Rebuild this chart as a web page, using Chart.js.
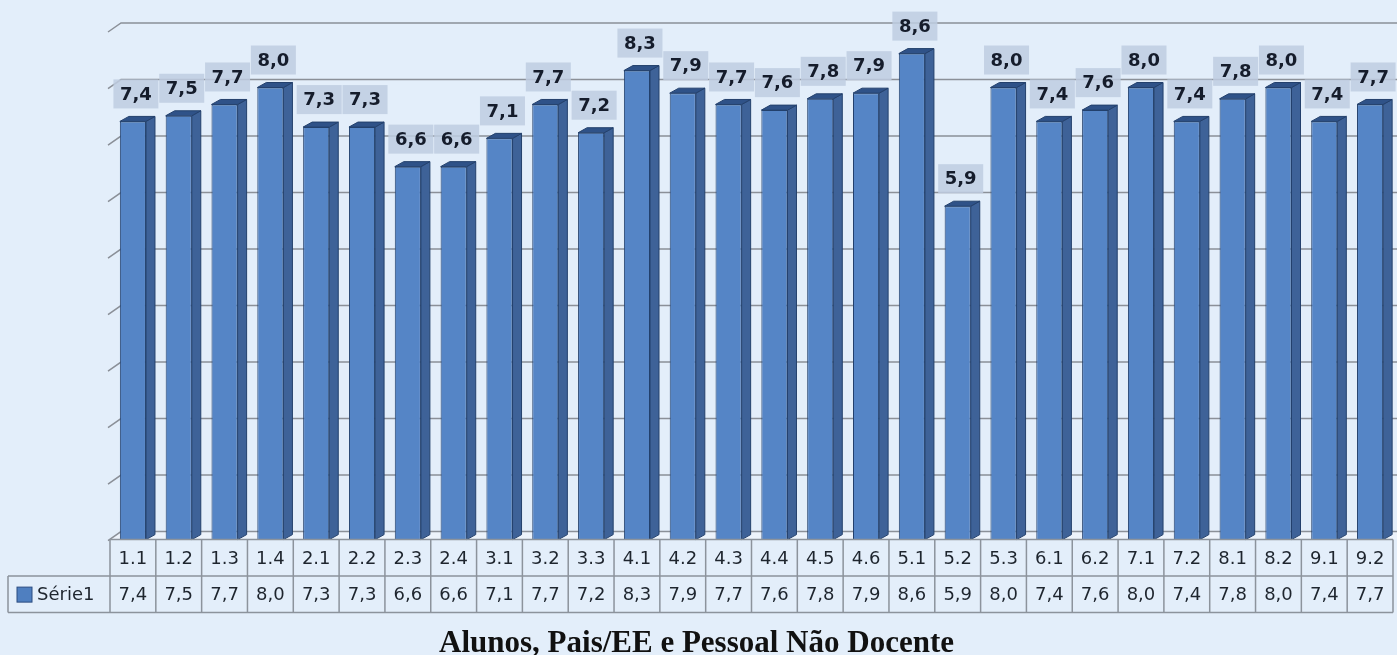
<!DOCTYPE html>
<html>
<head>
<meta charset="utf-8">
<script src="https://cdn.jsdelivr.net/npm/chart.js@4"></script>
<style>
  body { margin: 0; background: #e3eefa; }
  #wrap { width: 1397px; height: 655px; position: relative; }
</style>
</head>
<body>
<div id="wrap"><canvas id="myChart"></canvas></div>
<script>
const categories = ["1.1", "1.2", "1.3", "1.4", "2.1", "2.2", "2.3", "2.4", "3.1", "3.2", "3.3", "4.1", "4.2", "4.3", "4.4", "4.5", "4.6", "5.1", "5.2", "5.3", "6.1", "6.2", "7.1", "7.2", "8.1", "8.2", "9.1", "9.2"];
const values = [7.4, 7.5, 7.7, 8.0, 7.3, 7.3, 6.6, 6.6, 7.1, 7.7, 7.2, 8.3, 7.9, 7.7, 7.6, 7.8, 7.9, 8.6, 5.9, 8.0, 7.4, 7.6, 8.0, 7.4, 7.8, 8.0, 7.4, 7.7];
const seriesName = "Série1";
const gridValues = [0, 1, 2, 3, 4, 5, 6, 7, 8, 9];
const chartTitle = "Alunos, Pais/EE e Pessoal Não Docente";

const depthX = 9, depthY = 5;     // bar depth
const wallX = 11, wallY = 8;      // back wall offset
const fmt = (v) => v.toFixed(1).replace(".", ",");

function frontFill(c) {
  const chart = c.chart;
  const el = c.element;
  if (!chart.chartArea || !el || el.width == null) return "#5585c6";
  const x0 = el.x - el.width / 2, x1 = el.x + el.width / 2;
  if (!isFinite(x0) || !isFinite(x1)) return "#5585c6";
  const g = chart.ctx.createLinearGradient(x0, 0, x1, 0);
  g.addColorStop(0, "#3f6aa8");
  g.addColorStop(0.3, "#5f91d2");
  g.addColorStop(0.7, "#5f91d2");
  g.addColorStop(1, "#4775b5");
  return g;
}

const wallPlugin = {
  id: "wall",
  beforeDatasetsDraw(chart) {
    const { ctx, chartArea, scales } = chart;
    const right = chart.width;
    ctx.save();
    // floor
    const y0 = scales.y.getPixelForValue(0);
    ctx.fillStyle = "#edf3fb";
    ctx.beginPath();
    ctx.moveTo(chartArea.left, y0);
    ctx.lineTo(chartArea.left + wallX, y0 - wallY);
    ctx.lineTo(right, y0 - wallY);
    ctx.lineTo(right, y0);
    ctx.closePath();
    ctx.fill();
    ctx.strokeStyle = "#8b9098";
    ctx.lineWidth = 1.5;
    gridValues.forEach((v) => {
      const py = scales.y.getPixelForValue(v);
      ctx.beginPath();
      ctx.moveTo(chartArea.left - 2, py + 1);
      ctx.lineTo(chartArea.left + wallX, py - wallY);
      ctx.lineTo(right, py - wallY);
      ctx.stroke();
    });
    ctx.restore();
  },
  afterDatasetsDraw(chart) {
    const { ctx } = chart;
    const meta = chart.getDatasetMeta(0);
    ctx.save();
    ctx.lineWidth = 1;
    ctx.strokeStyle = "#23406c";
    meta.data.forEach((bar) => {
      const l = bar.x - bar.width / 2, r = bar.x + bar.width / 2;
      const t = bar.y, b = bar.base;
      // side face
      ctx.fillStyle = "#3e6298";
      ctx.beginPath();
      ctx.moveTo(r, t);
      ctx.lineTo(r + depthX, t - depthY);
      ctx.lineTo(r + depthX, b - depthY);
      ctx.lineTo(r, b);
      ctx.closePath();
      ctx.fill();
      ctx.stroke();
      // top face
      ctx.fillStyle = "#2f5288";
      ctx.beginPath();
      ctx.moveTo(l, t);
      ctx.lineTo(l + depthX, t - depthY);
      ctx.lineTo(r + depthX, t - depthY);
      ctx.lineTo(r, t);
      ctx.closePath();
      ctx.fill();
      ctx.stroke();
    });
    // value labels
    ctx.font = "bold 18px 'DejaVu Sans'";
    ctx.textAlign = "center";
    ctx.textBaseline = "middle";
    meta.data.forEach((bar, i) => {
      const cx = bar.x + 3;
      const bw = 45, bh = 29;
      const by = bar.y - 13 - bh;
      ctx.fillStyle = "rgba(190, 204, 224, 0.85)";
      ctx.fillRect(cx - bw / 2, by, bw, bh);
      ctx.fillStyle = "#151c2b";
      ctx.fillText(fmt(values[i]), cx, by + bh / 2 + 1);
    });
    ctx.restore();
  }
};

const tablePlugin = {
  id: "dataTable",
  afterDraw(chart) {
    const { ctx, chartArea, scales } = chart;
    const x = scales.x;
    const n = categories.length;
    const cw = (chartArea.right - chartArea.left) / n;
    const top = scales.y.getPixelForValue(0);
    const rowH = 36.5;
    const mid = top + rowH, bottom = top + 2 * rowH;
    const legLeft = 8;
    ctx.save();
    ctx.strokeStyle = "#8c939c";
    ctx.lineWidth = 1.5;
    ctx.beginPath();
    ctx.moveTo(chartArea.left, top);
    ctx.lineTo(chartArea.right, top);
    ctx.moveTo(legLeft, mid);
    ctx.lineTo(chartArea.right, mid);
    ctx.moveTo(legLeft, bottom);
    ctx.lineTo(chartArea.right, bottom);
    ctx.moveTo(legLeft, mid);
    ctx.lineTo(legLeft, bottom);
    for (let i = 0; i <= n; i++) {
      const px = i < n ? x.getPixelForValue(i) - cw / 2 : x.getPixelForValue(n - 1) + cw / 2;
      ctx.moveTo(px, top);
      ctx.lineTo(px, bottom);
    }
    ctx.stroke();

    ctx.fillStyle = "#1e252e";
    ctx.font = "18px 'DejaVu Sans'";
    ctx.textAlign = "center";
    ctx.textBaseline = "middle";
    categories.forEach((c, i) => {
      const px = x.getPixelForValue(i);
      ctx.fillText(c, px, top + rowH / 2 + 1);
      ctx.fillText(fmt(values[i]), px, mid + rowH / 2 + 1);
    });
    // legend key
    ctx.fillStyle = "#4f7fc0";
    ctx.strokeStyle = "#2b4c80";
    ctx.lineWidth = 1;
    ctx.fillRect(17, mid + 11, 15, 15);
    ctx.strokeRect(17, mid + 11, 15, 15);
    ctx.fillStyle = "#1e252e";
    ctx.textAlign = "left";
    ctx.fillText(seriesName, 37, mid + rowH / 2 + 1);
    ctx.restore();
  }
};

const ctx = document.getElementById("myChart").getContext("2d");
const myChart = new Chart(ctx, {
  type: "bar",
  data: {
    labels: categories,
    datasets: [
      {
        label: seriesName,
        data: values,
        backgroundColor: frontFill,
        borderColor: "#23406c",
        borderWidth: 1,
        barPercentage: 0.57,
        categoryPercentage: 1.0,
      },
    ],
  },
  options: {
    responsive: true,
    maintainAspectRatio: false,
    animation: false,
    layout: { padding: { left: 0, right: 4, top: 31, bottom: 0 } },
    scales: {
      x: { display: false },
      y: {
        min: 0,
        max: 9,
        ticks: { display: false },
        grid: { display: false },
        border: { display: false },
        afterFit: (s) => { s.width = 110; },
      },
    },
    plugins: {
      legend: { display: false },
      tooltip: { enabled: false },
      title: {
        display: true,
        position: "bottom",
        text: chartTitle,
        color: "#111111",
        font: { family: "'Liberation Serif', serif", size: 31, weight: "bold", lineHeight: 0.735 },
        padding: { top: 92.6, bottom: 0 },
      },
    },
  },
  plugins: [wallPlugin, tablePlugin],
});
</script>
</body>
</html>
